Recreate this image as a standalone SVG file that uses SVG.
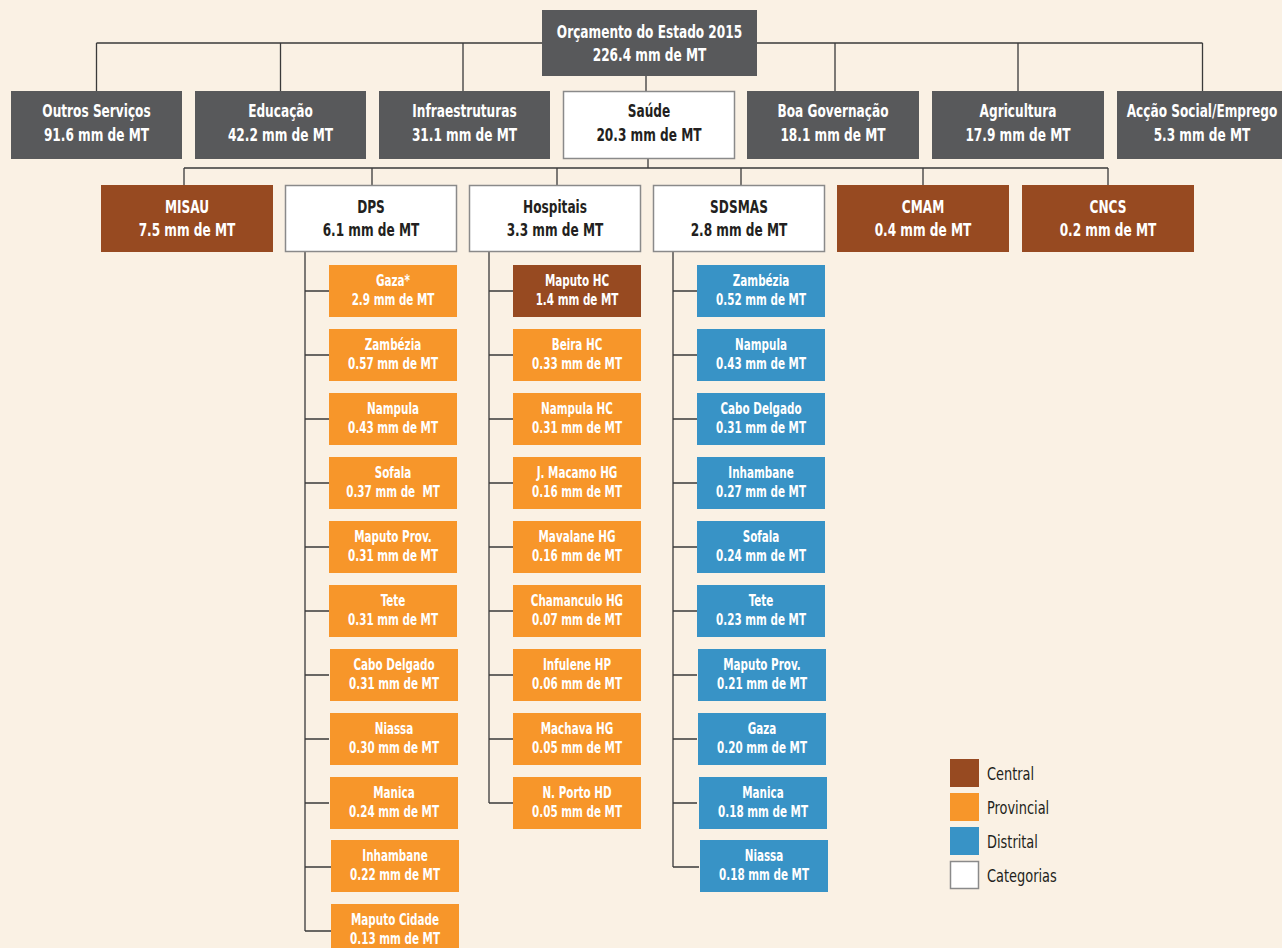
<svg xmlns="http://www.w3.org/2000/svg" width="1282" height="948" viewBox="0 0 1282 948">
<style>
text{font-family:"DejaVu Sans Condensed","Liberation Sans",sans-serif;font-weight:bold;text-anchor:middle}
.big{font-size:18px}
.sm{font-size:15px}
.w{fill:#ffffff}
.d{fill:#231f20}
.gray{fill:#58595b}
.white{fill:#ffffff;stroke:#8a8a8a;stroke-width:1.5}
.brown{fill:#974a21}
.orange{fill:#f7962a}
.blue{fill:#3893c6}
.ln{fill:none;stroke:#3a3a3a;stroke-width:1.3}
.lg{font-weight:normal;font-size:18px;text-anchor:start;fill:#231f20}
</style>
<rect x="0" y="0" width="1282" height="948" fill="#faf1e4"/>
<g id="connectors" class="ln">
<path d="M96.5 43H1202.5M96.5 43V91M280.5 43V91M463 43V91M835 43V91M1018 43V91M1202.5 43V91M646 76V91"/>
<path d="M648 159V168M184 168H1108M184 168V185M372 168V185M557 168V185M741 168V185M923 168V185M1108 168V185"/>
<path d="M305 252V931M489 252V803M673 252V867"/>
<path d="M305 291H329M305 355H329M305 419H329M305 483H329M305 547H329M305 611H329M305 675H329M305 739H329M305 803H329M305 867H331M305 931H331"/>
<path d="M489 291H513M489 355H513M489 419H513M489 483H513M489 547H513M489 611H513M489 675H513M489 739H513M489 803H513"/>
<path d="M673 291H697M673 355H697M673 419H697M673 483H697M673 547H697M673 611H697M673 675H697M673 739H697M673 803H697M673 867H699"/>
</g>
<g id="root"><rect class="gray" x="542" y="10" width="215" height="66"/><text class="big w" transform="translate(649.5 0) scale(.75 1)" x="0" y="38">Orçamento do Estado 2015</text><text class="big w" transform="translate(649.5 0) scale(.75 1)" x="0" y="61">226.4 mm de MT</text></g>
<g id="outros"><rect class="gray" x="11" y="91" width="171" height="68"/><text class="big w" transform="translate(96.5 0) scale(.75 1)" x="0" y="117">Outros Serviços</text><text class="big w" transform="translate(96.5 0) scale(.75 1)" x="0" y="141">91.6 mm de MT</text></g>
<g id="educacao"><rect class="gray" x="195" y="91" width="171" height="68"/><text class="big w" transform="translate(280.5 0) scale(.75 1)" x="0" y="117">Educação</text><text class="big w" transform="translate(280.5 0) scale(.75 1)" x="0" y="141">42.2 mm de MT</text></g>
<g id="infra"><rect class="gray" x="379" y="91" width="171" height="68"/><text class="big w" transform="translate(464.5 0) scale(.75 1)" x="0" y="117">Infraestruturas</text><text class="big w" transform="translate(464.5 0) scale(.75 1)" x="0" y="141">31.1 mm de MT</text></g>
<g id="saude"><rect class="white" x="563.5" y="91.5" width="171" height="67"/><text class="big d" transform="translate(649 0) scale(.75 1)" x="0" y="117">Saúde</text><text class="big d" transform="translate(649 0) scale(.75 1)" x="0" y="141">20.3 mm de MT</text></g>
<g id="boa"><rect class="gray" x="747" y="91" width="172" height="68"/><text class="big w" transform="translate(833 0) scale(.75 1)" x="0" y="117">Boa Governação</text><text class="big w" transform="translate(833 0) scale(.75 1)" x="0" y="141">18.1 mm de MT</text></g>
<g id="agri"><rect class="gray" x="932" y="91" width="172" height="68"/><text class="big w" transform="translate(1018 0) scale(.75 1)" x="0" y="117">Agricultura</text><text class="big w" transform="translate(1018 0) scale(.75 1)" x="0" y="141">17.9 mm de MT</text></g>
<g id="accao"><rect class="gray" x="1117" y="91" width="171" height="68"/><text class="big w" transform="translate(1202 0) scale(.75 1)" x="0" y="117">Acção Social/Emprego</text><text class="big w" transform="translate(1202 0) scale(.75 1)" x="0" y="141">5.3 mm de MT</text></g>
<g id="misau"><rect class="brown" x="101" y="185" width="172" height="67"/><text class="big w" transform="translate(187 0) scale(.75 1)" x="0" y="213">MISAU</text><text class="big w" transform="translate(187 0) scale(.75 1)" x="0" y="236">7.5 mm de MT</text></g>
<g id="dps"><rect class="white" x="285.5" y="185.5" width="171" height="66"/><text class="big d" transform="translate(371 0) scale(.75 1)" x="0" y="213">DPS</text><text class="big d" transform="translate(371 0) scale(.75 1)" x="0" y="236">6.1 mm de MT</text></g>
<g id="hospitais"><rect class="white" x="469.5" y="185.5" width="171" height="66"/><text class="big d" transform="translate(555 0) scale(.75 1)" x="0" y="213">Hospitais</text><text class="big d" transform="translate(555 0) scale(.75 1)" x="0" y="236">3.3 mm de MT</text></g>
<g id="sdsmas"><rect class="white" x="653.5" y="185.5" width="171" height="66"/><text class="big d" transform="translate(739 0) scale(.75 1)" x="0" y="213">SDSMAS</text><text class="big d" transform="translate(739 0) scale(.75 1)" x="0" y="236">2.8 mm de MT</text></g>
<g id="cmam"><rect class="brown" x="837" y="185" width="172" height="67"/><text class="big w" transform="translate(923 0) scale(.75 1)" x="0" y="213">CMAM</text><text class="big w" transform="translate(923 0) scale(.75 1)" x="0" y="236">0.4 mm de MT</text></g>
<g id="cncs"><rect class="brown" x="1022" y="185" width="172" height="67"/><text class="big w" transform="translate(1108 0) scale(.75 1)" x="0" y="213">CNCS</text><text class="big w" transform="translate(1108 0) scale(.75 1)" x="0" y="236">0.2 mm de MT</text></g>
<g id="dps-gaza"><rect class="orange" x="329" y="265" width="128" height="52"/><text class="sm w" transform="translate(393 0) scale(.77 1)" x="0" y="286.5">Gaza*</text><text class="sm w" transform="translate(393 0) scale(.77 1)" x="0" y="305.5">2.9 mm de MT</text></g>
<g id="dps-zambezia"><rect class="orange" x="329" y="329" width="128" height="52"/><text class="sm w" transform="translate(393 0) scale(.77 1)" x="0" y="350.5">Zambézia</text><text class="sm w" transform="translate(393 0) scale(.77 1)" x="0" y="369.5">0.57 mm de MT</text></g>
<g id="dps-nampula"><rect class="orange" x="329" y="393" width="128" height="52"/><text class="sm w" transform="translate(393 0) scale(.77 1)" x="0" y="414.5">Nampula</text><text class="sm w" transform="translate(393 0) scale(.77 1)" x="0" y="433.5">0.43 mm de MT</text></g>
<g id="dps-sofala"><rect class="orange" x="329" y="457" width="128" height="52"/><text class="sm w" transform="translate(393 0) scale(.77 1)" x="0" y="478.5">Sofala</text><text class="sm w" transform="translate(393 0) scale(.77 1)" x="0" y="497.5" xml:space="preserve">0.37 mm de  MT</text></g>
<g id="dps-maputoprov"><rect class="orange" x="329" y="521" width="128" height="52"/><text class="sm w" transform="translate(393 0) scale(.77 1)" x="0" y="542.5">Maputo Prov.</text><text class="sm w" transform="translate(393 0) scale(.77 1)" x="0" y="561.5">0.31 mm de MT</text></g>
<g id="dps-tete"><rect class="orange" x="329" y="585" width="128" height="52"/><text class="sm w" transform="translate(393 0) scale(.77 1)" x="0" y="606.5">Tete</text><text class="sm w" transform="translate(393 0) scale(.77 1)" x="0" y="625.5">0.31 mm de MT</text></g>
<g id="dps-cabodelgado"><rect class="orange" x="330" y="649" width="128" height="52"/><text class="sm w" transform="translate(394 0) scale(.77 1)" x="0" y="670.5">Cabo Delgado</text><text class="sm w" transform="translate(394 0) scale(.77 1)" x="0" y="689.5">0.31 mm de MT</text></g>
<g id="dps-niassa"><rect class="orange" x="330" y="713" width="128" height="52"/><text class="sm w" transform="translate(394 0) scale(.77 1)" x="0" y="734.5">Niassa</text><text class="sm w" transform="translate(394 0) scale(.77 1)" x="0" y="753.5">0.30 mm de MT</text></g>
<g id="dps-manica"><rect class="orange" x="330" y="777" width="128" height="52"/><text class="sm w" transform="translate(394 0) scale(.77 1)" x="0" y="798.5">Manica</text><text class="sm w" transform="translate(394 0) scale(.77 1)" x="0" y="817.5">0.24 mm de MT</text></g>
<g id="dps-inhambane"><rect class="orange" x="331" y="840" width="128" height="52"/><text class="sm w" transform="translate(395 0) scale(.77 1)" x="0" y="861.5">Inhambane</text><text class="sm w" transform="translate(395 0) scale(.77 1)" x="0" y="880.5">0.22 mm de MT</text></g>
<g id="dps-maputocidade"><rect class="orange" x="331" y="904" width="128" height="52"/><text class="sm w" transform="translate(395 0) scale(.77 1)" x="0" y="925.5">Maputo Cidade</text><text class="sm w" transform="translate(395 0) scale(.77 1)" x="0" y="944.5">0.13 mm de MT</text></g>
<g id="h-maputo"><rect class="brown" x="513" y="265" width="128" height="52"/><text class="sm w" transform="translate(577 0) scale(.77 1)" x="0" y="286.5">Maputo HC</text><text class="sm w" transform="translate(577 0) scale(.77 1)" x="0" y="305.5">1.4 mm de MT</text></g>
<g id="h-beira"><rect class="orange" x="513" y="329" width="128" height="52"/><text class="sm w" transform="translate(577 0) scale(.77 1)" x="0" y="350.5">Beira HC</text><text class="sm w" transform="translate(577 0) scale(.77 1)" x="0" y="369.5">0.33 mm de MT</text></g>
<g id="h-nampula"><rect class="orange" x="513" y="393" width="128" height="52"/><text class="sm w" transform="translate(577 0) scale(.77 1)" x="0" y="414.5">Nampula HC</text><text class="sm w" transform="translate(577 0) scale(.77 1)" x="0" y="433.5">0.31 mm de MT</text></g>
<g id="h-jmacamo"><rect class="orange" x="513" y="457" width="128" height="52"/><text class="sm w" transform="translate(577 0) scale(.77 1)" x="0" y="478.5">J. Macamo HG</text><text class="sm w" transform="translate(577 0) scale(.77 1)" x="0" y="497.5">0.16 mm de MT</text></g>
<g id="h-mavalane"><rect class="orange" x="513" y="521" width="128" height="52"/><text class="sm w" transform="translate(577 0) scale(.77 1)" x="0" y="542.5">Mavalane HG</text><text class="sm w" transform="translate(577 0) scale(.77 1)" x="0" y="561.5">0.16 mm de MT</text></g>
<g id="h-chamanculo"><rect class="orange" x="513" y="585" width="128" height="52"/><text class="sm w" transform="translate(577 0) scale(.77 1)" x="0" y="606.5">Chamanculo HG</text><text class="sm w" transform="translate(577 0) scale(.77 1)" x="0" y="625.5">0.07 mm de MT</text></g>
<g id="h-infulene"><rect class="orange" x="513" y="649" width="128" height="52"/><text class="sm w" transform="translate(577 0) scale(.77 1)" x="0" y="670.5">Infulene HP</text><text class="sm w" transform="translate(577 0) scale(.77 1)" x="0" y="689.5">0.06 mm de MT</text></g>
<g id="h-machava"><rect class="orange" x="513" y="713" width="128" height="52"/><text class="sm w" transform="translate(577 0) scale(.77 1)" x="0" y="734.5">Machava HG</text><text class="sm w" transform="translate(577 0) scale(.77 1)" x="0" y="753.5">0.05 mm de MT</text></g>
<g id="h-nporto"><rect class="orange" x="513" y="777" width="128" height="52"/><text class="sm w" transform="translate(577 0) scale(.77 1)" x="0" y="798.5">N. Porto HD</text><text class="sm w" transform="translate(577 0) scale(.77 1)" x="0" y="817.5">0.05 mm de MT</text></g>
<g id="s-zambezia"><rect class="blue" x="697" y="265" width="128" height="52"/><text class="sm w" transform="translate(761 0) scale(.77 1)" x="0" y="286.5">Zambézia</text><text class="sm w" transform="translate(761 0) scale(.77 1)" x="0" y="305.5">0.52 mm de MT</text></g>
<g id="s-nampula"><rect class="blue" x="697" y="329" width="128" height="52"/><text class="sm w" transform="translate(761 0) scale(.77 1)" x="0" y="350.5">Nampula</text><text class="sm w" transform="translate(761 0) scale(.77 1)" x="0" y="369.5">0.43 mm de MT</text></g>
<g id="s-cabodelgado"><rect class="blue" x="697" y="393" width="128" height="52"/><text class="sm w" transform="translate(761 0) scale(.77 1)" x="0" y="414.5">Cabo Delgado</text><text class="sm w" transform="translate(761 0) scale(.77 1)" x="0" y="433.5">0.31 mm de MT</text></g>
<g id="s-inhambane"><rect class="blue" x="697" y="457" width="128" height="52"/><text class="sm w" transform="translate(761 0) scale(.77 1)" x="0" y="478.5">Inhambane</text><text class="sm w" transform="translate(761 0) scale(.77 1)" x="0" y="497.5">0.27 mm de MT</text></g>
<g id="s-sofala"><rect class="blue" x="697" y="521" width="128" height="52"/><text class="sm w" transform="translate(761 0) scale(.77 1)" x="0" y="542.5">Sofala</text><text class="sm w" transform="translate(761 0) scale(.77 1)" x="0" y="561.5">0.24 mm de MT</text></g>
<g id="s-tete"><rect class="blue" x="697" y="585" width="128" height="52"/><text class="sm w" transform="translate(761 0) scale(.77 1)" x="0" y="606.5">Tete</text><text class="sm w" transform="translate(761 0) scale(.77 1)" x="0" y="625.5">0.23 mm de MT</text></g>
<g id="s-maputoprov"><rect class="blue" x="698" y="649" width="128" height="52"/><text class="sm w" transform="translate(762 0) scale(.77 1)" x="0" y="670.5">Maputo Prov.</text><text class="sm w" transform="translate(762 0) scale(.77 1)" x="0" y="689.5">0.21 mm de MT</text></g>
<g id="s-gaza"><rect class="blue" x="698" y="713" width="128" height="52"/><text class="sm w" transform="translate(762 0) scale(.77 1)" x="0" y="734.5">Gaza</text><text class="sm w" transform="translate(762 0) scale(.77 1)" x="0" y="753.5">0.20 mm de MT</text></g>
<g id="s-manica"><rect class="blue" x="699" y="777" width="128" height="52"/><text class="sm w" transform="translate(763 0) scale(.77 1)" x="0" y="798.5">Manica</text><text class="sm w" transform="translate(763 0) scale(.77 1)" x="0" y="817.5">0.18 mm de MT</text></g>
<g id="s-niassa"><rect class="blue" x="700" y="840" width="128" height="52"/><text class="sm w" transform="translate(764 0) scale(.77 1)" x="0" y="861.5">Niassa</text><text class="sm w" transform="translate(764 0) scale(.77 1)" x="0" y="880.5">0.18 mm de MT</text></g>
<g id="legend">
<rect class="brown" x="950" y="759" width="29" height="28"/><text class="lg" transform="translate(987 0) scale(.8 1)" x="0" y="780">Central</text>
<rect class="orange" x="950" y="793" width="29" height="28"/><text class="lg" transform="translate(987 0) scale(.8 1)" x="0" y="814">Provincial</text>
<rect class="blue" x="950" y="827" width="29" height="28"/><text class="lg" transform="translate(987 0) scale(.8 1)" x="0" y="848">Distrital</text>
<rect class="white" x="950.5" y="861.5" width="28" height="27"/><text class="lg" transform="translate(987 0) scale(.8 1)" x="0" y="882">Categorias</text>
</g>
</svg>
